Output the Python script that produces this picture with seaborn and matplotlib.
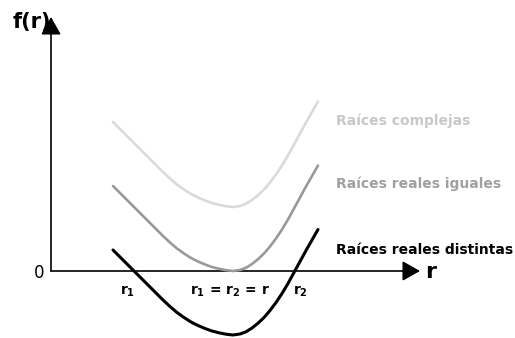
import numpy as np
import pandas as pd
import seaborn as sns
import matplotlib
matplotlib.use("Agg")
import matplotlib.pyplot as plt
from matplotlib.patches import FancyArrowPatch

# ---- data ----
r_vals = [6.2, 7.3, 8.3, 9.4, 10.4, 11.2, 11.9, 12.6, 13.3, 14.0,
          14.7, 15.4, 16.1, 16.8, 17.5, 18.2, 18.9, 19.5, 20.1, 20.7,
          21.3, 21.9, 22.5, 23.1, 23.7, 24.3, 24.9, 25.5, 26.1, 26.7]
f_complejas = [14.9, 13.8, 12.8, 11.7, 10.7, 9.9, 9.25, 8.65, 8.15, 7.7,
               7.35, 7.05, 6.8, 6.62, 6.48, 6.4, 6.5, 6.72, 7.1, 7.58,
               8.15, 8.85, 9.65, 10.55, 11.55, 12.65, 13.75, 14.85, 15.9, 16.95]
f_iguales = [8.5, 7.4, 6.4, 5.3, 4.3, 3.5, 2.85, 2.25, 1.75, 1.3,
             0.95, 0.65, 0.4, 0.22, 0.08, 0.0, 0.1, 0.32, 0.7, 1.18,
             1.75, 2.45, 3.25, 4.15, 5.15, 6.25, 7.35, 8.45, 9.5, 10.55]
f_distintas = [2.1, 1.0, 0.0, -1.1, -2.1, -2.9, -3.55, -4.15, -4.65, -5.1,
               -5.45, -5.75, -6.0, -6.18, -6.32, -6.4, -6.3, -6.08, -5.7, -5.22,
               -4.65, -3.95, -3.15, -2.25, -1.25, -0.15, 0.95, 2.05, 3.1, 4.15]
series_names = ["Raíces complejas", "Raíces reales iguales", "Raíces reales distintas"]
root_labels = [r"$\mathbf{r_1}$", r"$\mathbf{r_1\,=\,r_2\,=\,r}$", r"$\mathbf{r_2}$"]
root_pos = [7.7, 17.9, 24.95]

sns.set_theme(style="white")
plt.rcParams["font.family"] = ["DejaVu Sans"]
plt.rcParams["mathtext.fontset"] = "dejavusans"
plt.rcParams["text.color"] = "black"

fig = plt.figure(figsize=(5.15, 3.38), dpi=100)
ax = fig.add_axes([0, 0, 1, 1])
ax.set_xlim(-5.1, 46.4)
ax.set_ylim(-6.7, 27.1)
ax.axis("off")

# axes with arrows
axis_kw = dict(arrowstyle="-|>,head_length=10.8,head_width=6.1", mutation_scale=1,
               lw=1.2, color="black", shrinkA=0, shrinkB=0, zorder=1)
ax.add_patch(FancyArrowPatch((0, 0), (36.9, 0), **axis_kw))
ax.add_patch(FancyArrowPatch((0, 0), (0, 25.4), **axis_kw))

df = pd.DataFrame({
    "r": r_vals * 3,
    "f": f_complejas + f_iguales + f_distintas,
    "serie": [series_names[0]] * len(r_vals) + [series_names[1]] * len(r_vals)
             + [series_names[2]] * len(r_vals),
})
curve_colors = {series_names[0]: "#DADADA", series_names[1]: "#999999",
                series_names[2]: "#000000"}
curve_lw = {series_names[0]: 1.9, series_names[1]: 1.9, series_names[2]: 2.2}
for name in series_names:
    sub = df[df["serie"] == name]
    sns.lineplot(data=sub, x="r", y="f", ax=ax, color=curve_colors[name],
                 linewidth=curve_lw[name], sort=False, estimator=None,
                 legend=False, zorder=3, solid_joinstyle="round")

# curve labels
text_colors = ["#C8C8C8", "#A0A0A0", "#000000"]
label_y = [14.6, 8.27, 1.7]
for name, c, y in zip(series_names, text_colors, label_y):
    ax.text(28.5, y, name, color=c, fontsize=10, fontweight="bold",
            ha="left", va="baseline")

# root labels
for lab, x in zip(root_labels, root_pos):
    ax.text(x, -2.4, lab, fontsize=10, ha="center", va="baseline", color="black")

# axis labels
ax.text(-3.85, 24.3, "f(r)", fontsize=15, fontweight="bold", ha="left",
        va="baseline", color="black")
ax.text(37.4, -0.7, "r", fontsize=16, fontweight="bold", ha="left",
        va="baseline", color="black")
ax.text(-1.2, -0.15, "0", fontsize=12, ha="center", va="center", color="black")

fig.savefig("out.png", dpi=100)
